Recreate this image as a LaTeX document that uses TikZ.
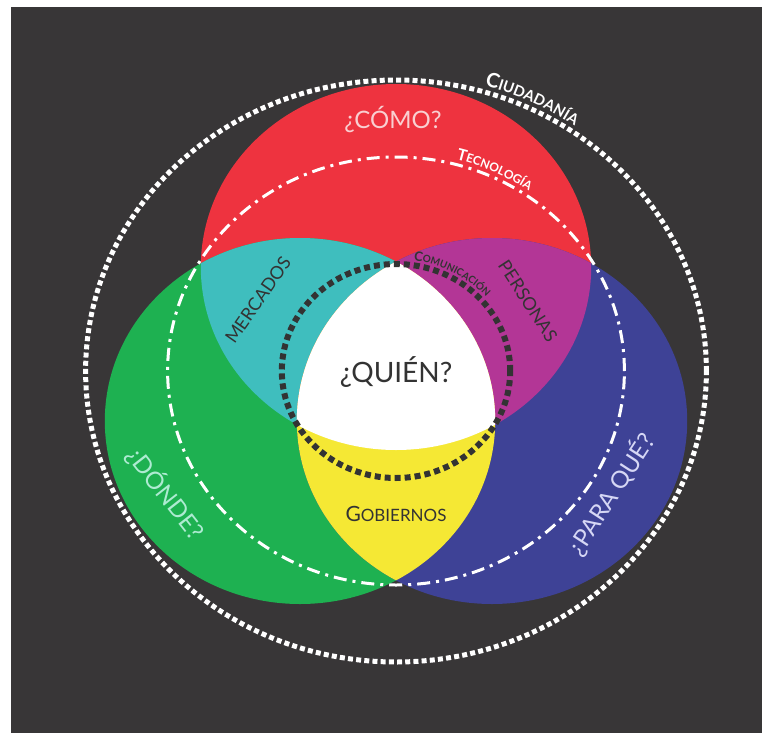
\documentclass[tikz,border=0pt]{standalone}
\usepackage{fontspec}
\setmainfont{Lato}
\usepackage{xcolor}
\usepackage{tikz}
\usetikzlibrary{decorations.text}
\definecolor{bg}{HTML}{383637}
\definecolor{vred}{HTML}{EE333F}
\definecolor{vgreen}{HTML}{1EB151}
\definecolor{vblue}{HTML}{3E4296}
\definecolor{vcyan}{HTML}{3FBEBE}
\definecolor{vpurple}{HTML}{B33696}
\definecolor{vyellow}{HTML}{F5E834}
\definecolor{ink}{HTML}{333333}
\definecolor{pink}{HTML}{F9CFD1}
\definecolor{mint}{HTML}{AEEBD2}
\definecolor{lilac}{HTML}{D6D7F5}
\tikzset{
  venn/.style={x radius=97.6pt, y radius=91.5pt},
  outerline/.style={draw=white, line width=2.5pt, dash pattern=on 2.5pt off 1.6pt},
  dashdotline/.style={draw=white, line width=1.5pt, dash pattern=on 6.5pt off 3pt on 1.5pt off 3pt},
  innerline/.style={draw=ink, line width=3pt, dash pattern=on 3pt off 2pt},
  biglbl/.style={font=\fontsize{12}{12}\selectfont},
  lbl/.style={font=\fontsize{9}{9}\selectfont},
  arctext/.style={decorate, decoration={text along path, text align=center, #1}}
}

\begin{document}
\begin{tikzpicture}[x=0.5pt, y=-0.5pt]
  \useasboundingbox (0,0) rectangle (764,733);
  \fill[white] (0,0) rectangle (764,733);
  \fill[bg] (11,7) rectangle (762,733);

  \coordinate (R) at (396,267);
  \coordinate (G) at (300,421);
  \coordinate (B) at (492,421);
  \coordinate (O) at (396,371);

  % the three sets
  \fill[vred] (R) ellipse[venn];
  \fill[vgreen] (G) ellipse[venn];
  \fill[vblue] (B) ellipse[venn];
  \begin{scope}
    \clip (R) ellipse[venn];
    \fill[vcyan] (G) ellipse[venn];
    \fill[vpurple] (B) ellipse[venn];
  \end{scope}
  \begin{scope}
    \clip (G) ellipse[venn];
    \fill[vyellow] (B) ellipse[venn];
    \clip (B) ellipse[venn];
    \fill[white] (R) ellipse[venn];
  \end{scope}

  % rings
  \draw[outerline] (O) ellipse[x radius=155.2pt, y radius=145.5pt];
  \draw[dashdotline] (O) ellipse[x radius=114.2pt, y radius=107pt];
  \draw[innerline] (O) ellipse[x radius=57.1pt, y radius=53.5pt];

  \node[biglbl, text=pink] (como) at (393,120) {¿CÓMO?};
  \node[font=\fontsize{14}{14}\selectfont, text=ink] (quien) at (396,372) {¿QUIÉN?};
  \node[text=ink] (gobiernos) at (396,514) {{\fontsize{10.5}{10}\selectfont G}{\fontsize{8.5}{10}\selectfont OBIERNOS}};
  \node[lbl, text=ink, rotate=55] (mercados) at (258,300) {MERCADOS};
  \node[lbl, text=ink, rotate=-57] (personas) at (528,301) {PERSONAS};
  \node[biglbl, text=mint, rotate=-52] (donde) at (166,493) {¿DÓNDE?};
  \node[biglbl, text=lilac, rotate=57] (paraque) at (611,494) {¿PARA QUÉ?};

  % labels on the rings
  \path[arctext={text color=white, text={|\bfseries\fontsize{10}{10}\selectfont|C|\bfseries\fontsize{7.5}{8}\selectfont|IUDADANÍA}}]
    ([shift={(O)}] 90:158.4pt and 148.5pt) arc[start angle=90, end angle=39, x radius=158.4pt, y radius=148.5pt];
  \path[arctext={text color=white, text={|\bfseries\fontsize{8}{8}\selectfont|T|\bfseries\fontsize{6}{6}\selectfont|ECNOLOGÍA}}]
    ([shift={(O)}] 90:116.8pt and 109.5pt) arc[start angle=90, end angle=40, x radius=116.8pt, y radius=109.5pt];
  \path[arctext={text color=ink, text={|\bfseries\fontsize{6.5}{6}\selectfont|C|\bfseries\fontsize{5}{5}\selectfont|OMUNICACIÓN}}]
    ([shift={(O)}] 95:59.8pt and 56pt) arc[start angle=95, end angle=27, x radius=59.8pt, y radius=56pt];
\end{tikzpicture}
\end{document}
